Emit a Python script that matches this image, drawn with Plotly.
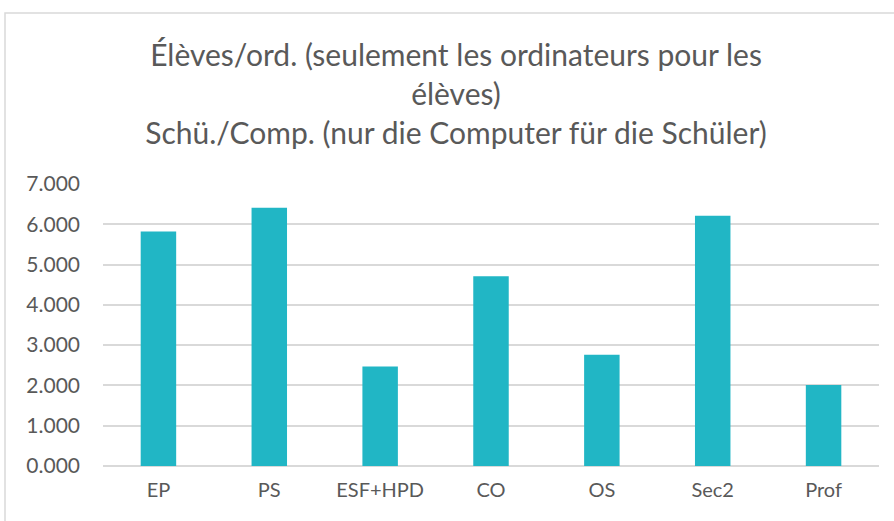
import plotly.graph_objects as go

categories = ["EP", "PS", "ESF+HPD", "CO", "OS", "Sec2", "Prof"]
values = [5.82, 6.41, 2.47, 4.71, 2.76, 6.21, 2.01]
tick_vals = [0, 1, 2, 3, 4, 5, 6, 7]
tick_text = ["0.000", "1.000", "2.000", "3.000", "4.000", "5.000", "6.000", "7.000"]
title_text = ("Élèves/ord. (seulement les ordinateurs pour les<br>élèves)<br>"
              "Schü./Comp. (nur die Computer für die Schüler)")

W, H = 894, 521
L, R, T, B = 103, 15, 184, 55
pw = W - L - R
ph = H - T - B

fig = go.Figure(go.Bar(
    x=categories, y=values,
    marker=dict(color="#21B6C5", line=dict(width=0)),
    width=0.32,
))

font_family = "Lato, 'Open Sans', sans-serif"
fig.update_layout(
    width=W, height=H,
    margin=dict(l=L, r=R, t=T, b=B),
    paper_bgcolor="white", plot_bgcolor="white",
    showlegend=False,
    title=dict(text=title_text, x=456 / W, xanchor="center", y=1 - 66 / H, yanchor="middle",
               font=dict(family=font_family, size=30, color="#595959")),
    font=dict(family=font_family, color="#595959"),
    xaxis=dict(showgrid=False, showline=False, ticks="", tickfont=dict(size=20, color="#595959"),
               ticklabelstandoff=10),
    yaxis=dict(range=[0, 7], tickvals=tick_vals, ticktext=tick_text,
               showgrid=True, gridcolor="#D9D9D9", gridwidth=1.5,
               zeroline=True, zerolinecolor="#D9D9D9", zerolinewidth=1.5,
               showline=False, ticks="", tickfont=dict(size=21, color="#595959"),
               ticklabelstandoff=22),
)

# outer chart border (Excel-like frame)
x0 = (5 - L) / pw
x1 = (W + 10 - L) / pw
y1 = 1 + (T - 13) / ph
y0 = -(B + 10) / ph
fig.add_shape(type="rect", xref="paper", yref="paper", x0=x0, x1=x1, y0=y0, y1=y1,
              line=dict(color="#D9D9D9", width=1.5), fillcolor="rgba(0,0,0,0)", layer="below")

fig.write_html("out.html", config={"displayModeBar": False},
               post_script="document.body.style.margin='0';")
